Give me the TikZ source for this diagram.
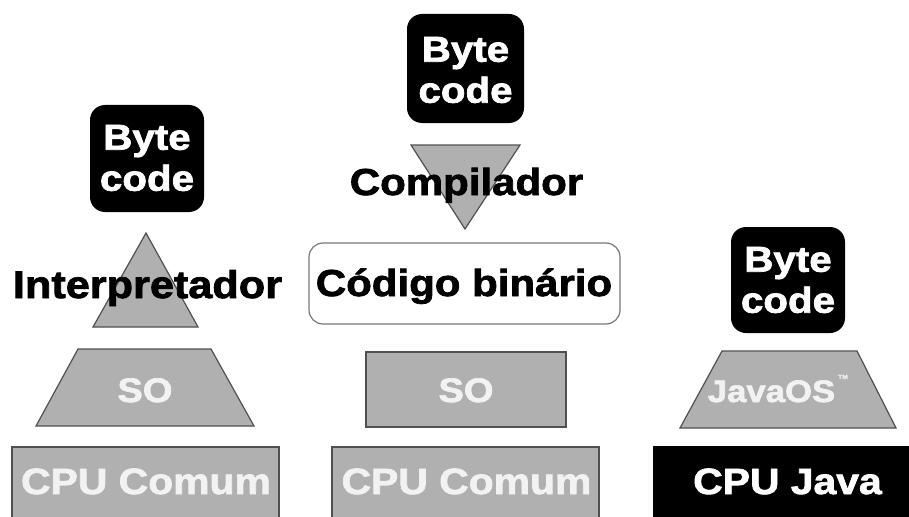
\documentclass[tikz,border=0pt]{standalone}
\usepackage{fontspec}
\setmainfont{Liberation Sans}[FakeStretch=1.12, BoldFeatures={FakeBold=2}]
\definecolor{shapegray}{RGB}{176,176,176}
\definecolor{edgegray}{RGB}{80,80,80}
\definecolor{boxedge}{RGB}{120,120,120}
\definecolor{softwhite}{RGB}{242,242,242}
\tikzset{
  layer/.style={fill=shapegray, draw=edgegray, line width=1.2pt, line join=miter},
  bytebox/.style={fill=black, rounded corners=15pt},
  bytetext/.style={text=white, align=center, inner sep=0pt, font=\bfseries\fontsize{36}{41}\selectfont},
  blacklbl/.style={text=black, inner sep=0pt, anchor=base, font=\bfseries\fontsize{37.5}{40}\selectfont},
  whitelbl/.style={text=softwhite, inner sep=0pt, anchor=base, font=\bfseries\fontsize{36.5}{40}\selectfont},
}
\begin{document}
\begin{tikzpicture}[x=1pt,y=-1pt]
\useasboundingbox (0,0) rectangle (909,516);
% ---------- left column ----------
\fill[bytebox] (90,105) rectangle (204,212);
\node[bytetext] (byteL) at (147,158) {Byte\\code};
\draw[layer] (146,233) -- (198,327) -- (93,327) -- cycle;
\node[blacklbl, font=\bfseries\fontsize{38.6}{40}\selectfont] (interp) at (147.5,298) {Interpretador};
\draw[layer] (78,349) -- (211,349) -- (254,426) -- (36,426) -- cycle;
\node[whitelbl, font=\bfseries\fontsize{34}{36}\selectfont] (soL) at (145,402) {SO};
\fill[shapegray] (12,447) rectangle (279,518);
\draw[edgegray, line width=1.2pt] (12,518) -- (12,447) -- (279,447) -- (279,518);
\node[whitelbl] (cpuL) at (146,494) {CPU Comum};
% ---------- middle column ----------
\fill[bytebox] (407,14) rectangle (524,123);
\node[bytetext] (byteM) at (465.5,70) {Byte\\code};
\draw[layer] (411,145) -- (520,145) -- (465,229) -- cycle;
\node[blacklbl] (comp) at (466.5,195) {Compilador};
\draw[boxedge, line width=1.2pt, fill=white, rounded corners=14pt] (309,243) rectangle (620,324);
\node[blacklbl] (bin) at (464,296) {Código binário};
\draw[layer] (366,352) rectangle (566,427);
\node[whitelbl, font=\bfseries\fontsize{34}{36}\selectfont] (soM) at (466,402) {SO};
\fill[shapegray] (332,447) rectangle (599,518);
\draw[edgegray, line width=1.2pt] (332,518) -- (332,447) -- (599,447) -- (599,518);
\node[whitelbl] (cpuM) at (466.5,494) {CPU Comum};
% ---------- right column ----------
\fill[bytebox] (731,227) rectangle (845,333);
\node[bytetext] (byteR) at (788,280) {Byte\\code};
\draw[layer] (722,351) -- (857,351) -- (896,428) -- (680,428) -- cycle;
\node[whitelbl, font=\bfseries\fontsize{31}{34}\selectfont] (javaos) at (771.5,402) {JavaOS};
\node[text=softwhite, inner sep=0pt, anchor=base west, font=\bfseries\fontsize{6}{7}\selectfont] (tm) at (838,379) {TM};
\fill[black] (653,446) rectangle (911,518);
\node[whitelbl, text=white] (cpuJ) at (787.5,494) {CPU Java};
\end{tikzpicture}
\end{document}
